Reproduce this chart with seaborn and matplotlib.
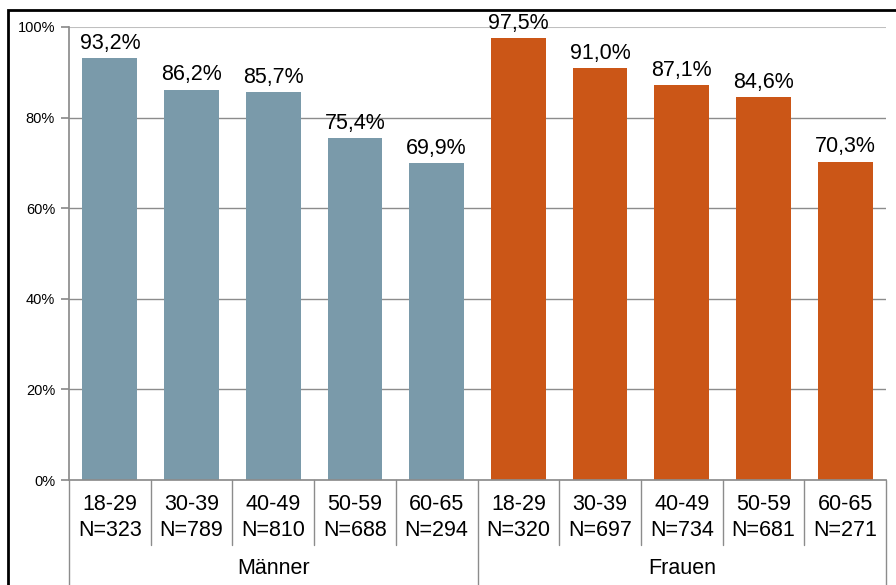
import pandas as pd
import seaborn as sns
import matplotlib.pyplot as plt
from matplotlib.patches import Rectangle
from matplotlib.transforms import blended_transform_factory

# Daten
altersgruppen = ["18-29", "30-39", "40-49", "50-59", "60-65"]
n_maenner = [323, 789, 810, 688, 294]
n_frauen = [320, 697, 734, 681, 271]
anteil_maenner = [93.2, 86.2, 85.7, 75.4, 69.9]
anteil_frauen = [97.5, 91.0, 87.1, 84.6, 70.3]
gruppen = ["Männer", "Frauen"]
farben = {"Männer": "#7A9AAA", "Frauen": "#CB5617"}

rows = []
for g, ns, vals in [("Männer", n_maenner, anteil_maenner), ("Frauen", n_frauen, anteil_frauen)]:
    for a, n, v in zip(altersgruppen, ns, vals):
        rows.append({"kat": f"{a}\nN={n}", "gruppe": g, "wert": v / 100})
df = pd.DataFrame(rows)

sns.set_theme(style="white")
plt.rcParams["font.family"] = ["Liberation Sans", "DejaVu Sans"]
plt.rcParams["text.color"] = "black"
plt.rcParams["xtick.color"] = "black"
plt.rcParams["ytick.color"] = "black"

fig = plt.figure(figsize=(8.96, 5.85), dpi=100)
ax = fig.add_axes([69 / 896, 105 / 585, 817 / 896, 453 / 585])

sns.barplot(data=df, x="kat", y="wert", hue="gruppe", palette=farben,
            dodge=False, width=0.67, legend=False, ax=ax, saturation=1,
            linewidth=0)

ax.set_ylim(0, 1)
ax.set_xlim(-0.5, len(df) - 0.5)
ax.set_yticks([0, 0.2, 0.4, 0.6, 0.8, 1.0])
ax.set_yticklabels(["0%", "20%", "40%", "60%", "80%", "100%"], fontsize=10.5)
ax.tick_params(axis="y", length=6, color="#8C8C8C", labelcolor="black", pad=4, left=True)
ax.tick_params(axis="x", length=0, labelsize=15.5, labelcolor="black", pad=10)
for lbl in ax.get_xticklabels():
    lbl.set_linespacing(1.35)
ax.set_xlabel("")
ax.set_ylabel("")

for y in [0.2, 0.4, 0.6, 0.8]:
    ax.axhline(y, color="#8C8C8C", lw=1, zorder=0)
ax.axhline(1.0, color="#BFBFBF", lw=1.5, zorder=0)

for s in ["top", "right"]:
    ax.spines[s].set_visible(False)
ax.spines["left"].set_color("#8C8C8C")
ax.spines["bottom"].set_color("#8C8C8C")

# Werte über den Balken
for cont in ax.containers:
    ax.bar_label(cont, labels=[f"{b.get_height() * 100:.1f}%".replace(".", ",") for b in cont],
                 padding=3, fontsize=15.5, color="black")

# Trennlinien der Kategorieachse
tr = blended_transform_factory(ax.transData, ax.transAxes)
for i in range(len(df) + 1):
    x = i - 0.5
    if i in (0, 5, 10):
        ax.plot([x, x], [0, -0.232], color="#8C8C8C", lw=1, transform=tr, clip_on=False)
    else:
        ax.plot([x, x], [0, -0.1435], color="#8C8C8C", lw=1, transform=tr, clip_on=False)

for j, g in enumerate(gruppen):
    ax.text(2 + 5 * j, -0.195, g, transform=tr, ha="center", va="center", fontsize=15.5)

# Rahmen um die Grafik
fig.patches.append(Rectangle((8 / 896, -0.01), 1.02, (585 - 10) / 585 + 0.01,
                             transform=fig.transFigure, fill=False,
                             edgecolor="black", lw=2))

fig.savefig("out.png", dpi=100)
